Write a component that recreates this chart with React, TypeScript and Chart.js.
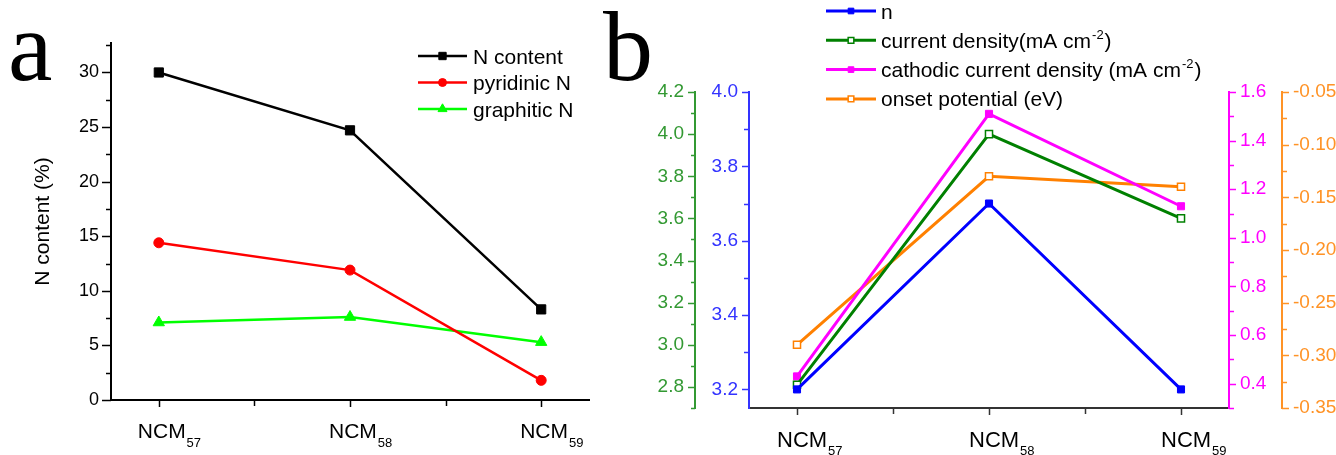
import React, { useEffect, useRef } from 'react';
import { Chart, registerables } from 'chart.js';

Chart.register(...registerables);

// ---------------- data ----------------
const categoryBase = ['NCM', 'NCM', 'NCM'];
const categorySub = ['57', '58', '59'];
const categoryPos = [1, 2, 3];

const seriesNamesA = ['N content', 'pyridinic N', 'graphitic N'];
const nContent = [30.0, 24.7, 8.3];
const pyridinicN = [14.4, 11.9, 1.8];
const graphiticN = [7.1, 7.6, 5.3];
const yTitleA = 'N content (%)';

const seriesNamesB = [
  'n',
  'current density(mA cm^{-2})',
  'cathodic current density (mA cm^{-2})',
  'onset potential (eV)',
];
const nValues = [3.2, 3.7, 3.2];
const currentDensity = [2.81, 4.0, 3.6];
const cathodicCurrent = [0.43, 1.51, 1.13];
const onsetPotential = [-0.29, -0.13, -0.14];

const panelLetters = ['a', 'b'];

// ---------------- styling helpers ----------------
const FONT = "'Liberation Sans', Arial, sans-serif";

const toPoints = (vals: number[]) => vals.map((v, i) => ({ x: categoryPos[i], y: v }));

function drawMarker(ctx: CanvasRenderingContext2D, style: string, x: number, y: number, r: number,
  fill: string, stroke: string, bw: number) {
  ctx.beginPath();
  if (style === 'rect') {
    const h = r * Math.SQRT1_2;
    ctx.rect(x - h, y - h, 2 * h, 2 * h);
  } else if (style === 'circle') {
    ctx.arc(x, y, r, 0, Math.PI * 2);
  } else if (style === 'triangle') {
    for (let k = 0; k < 3; k++) {
      const a = -Math.PI / 2 + (k * 2 * Math.PI) / 3;
      const px = x + Math.cos(a) * r;
      const py = y + Math.sin(a) * r;
      if (k === 0) ctx.moveTo(px, py); else ctx.lineTo(px, py);
    }
    ctx.closePath();
  }
  ctx.fillStyle = fill;
  ctx.fill();
  ctx.lineWidth = bw;
  ctx.strokeStyle = stroke;
  ctx.stroke();
}

function drawRich(ctx: CanvasRenderingContext2D, text: string, x: number, baseline: number, size: number) {
  const parts = text.split(/(\^\{[^}]*\})/).filter(Boolean);
  let cx = x;
  for (const p of parts) {
    if (p.startsWith('^{')) {
      const t = p.slice(2, -1);
      ctx.font = `${Math.round(size * 0.6)}px ${FONT}`;
      ctx.fillText(t, cx + 1, baseline - size * 0.42);
      cx += ctx.measureText(t).width + 2;
    } else {
      ctx.font = `${size}px ${FONT}`;
      ctx.fillText(p, cx, baseline);
      cx += ctx.measureText(p).width;
    }
  }
}

// Origin-like ticks (major + minor, outward)
const originTicks = {
  id: 'originTicks',
  afterDraw(chart: any, _args: any, opts: any) {
    const ctx: CanvasRenderingContext2D = chart.ctx;
    const cfg = opts.axes || {};
    for (const id of Object.keys(cfg)) {
      const s = chart.scales[id];
      if (!s) continue;
      const c = cfg[id];
      const start = Math.ceil((s.min - 1e-9) / c.minor);
      const end = Math.floor((s.max + 1e-9) / c.minor);
      ctx.save();
      ctx.strokeStyle = c.color;
      ctx.lineWidth = c.width;
      for (let k = start; k <= end; k++) {
        const v = k * c.minor;
        const q = v / c.major;
        const isMajor = Math.abs(q - Math.round(q)) < 1e-6;
        const len = isMajor ? c.majorLen : c.minorLen;
        const p = Math.round(s.getPixelForValue(v)) + 0.5;
        ctx.beginPath();
        if (s.position === 'left') {
          ctx.moveTo(s.right, p); ctx.lineTo(s.right - len, p);
        } else if (s.position === 'right') {
          ctx.moveTo(s.left, p); ctx.lineTo(s.left + len, p);
        } else {
          ctx.moveTo(p, s.top); ctx.lineTo(p, s.top + len);
        }
        ctx.stroke();
      }
      ctx.restore();
    }
  },
};

// category labels with subscripts
const subLabels = {
  id: 'subLabels',
  afterDraw(chart: any, _args: any, opts: any) {
    const s = chart.scales.x;
    const ctx: CanvasRenderingContext2D = chart.ctx;
    ctx.save();
    ctx.fillStyle = opts.color;
    ctx.textAlign = 'left';
    ctx.textBaseline = 'alphabetic';
    categoryPos.forEach((v, i) => {
      const px = s.getPixelForValue(v);
      const x0 = px + opts.dx;
      ctx.font = `${opts.size}px ${FONT}`;
      ctx.fillText(categoryBase[i], x0, opts.baseline);
      const w = ctx.measureText(categoryBase[i]).width;
      ctx.font = `${opts.subSize}px ${FONT}`;
      ctx.fillText(categorySub[i], x0 + w + 1, opts.subBaseline);
    });
    ctx.restore();
  },
};

// Origin-like legend: line + marker + text
const lineLegend = {
  id: 'lineLegend',
  afterDraw(chart: any, _args: any, opts: any) {
    const ctx: CanvasRenderingContext2D = chart.ctx;
    chart.data.datasets.forEach((ds: any, i: number) => {
      const y = opts.y0 + i * opts.dy;
      ctx.save();
      ctx.strokeStyle = ds.borderColor;
      ctx.lineWidth = ds.borderWidth;
      ctx.beginPath();
      ctx.moveTo(opts.x1, y);
      ctx.lineTo(opts.x2, y);
      ctx.stroke();
      drawMarker(ctx, ds.pointStyle, (opts.x1 + opts.x2) / 2, y, ds.pointRadius * opts.markerScale,
        ds.pointBackgroundColor, ds.pointBorderColor, ds.pointBorderWidth);
      ctx.fillStyle = '#000';
      ctx.textAlign = 'left';
      ctx.textBaseline = 'alphabetic';
      drawRich(ctx, ds.label, opts.textX, y + opts.size * 0.36, opts.size);
      ctx.restore();
    });
  },
};

// ---------------- chart configs ----------------
function makeConfigA(): any {
  const mk = (label: string, vals: number[], color: string, style: string, r: number) => ({
    label,
    data: toPoints(vals),
    borderColor: color,
    backgroundColor: color,
    borderWidth: 2.5,
    pointStyle: style,
    pointRadius: r,
    pointBackgroundColor: color,
    pointBorderColor: color,
    pointBorderWidth: 1,
    tension: 0,
  });
  return {
    type: 'line',
    data: {
      datasets: [
        mk(seriesNamesA[0], nContent, '#000000', 'rect', 6.5),
        mk(seriesNamesA[1], pyridinicN, '#ff0000', 'circle', 5),
        mk(seriesNamesA[2], graphiticN, '#00ff00', 'triangle', 6.5),
      ],
    },
    plugins: [originTicks, subLabels, lineLegend],
    options: {
      responsive: false,
      animation: false,
      events: [],
      layout: { padding: { top: 43, right: 31, left: 0, bottom: 0 }, autoPadding: false },
      plugins: {
        legend: { display: false },
        tooltip: { enabled: false },
        originTicks: {
          axes: {
            y: { major: 5, minor: 2.5, majorLen: 9, minorLen: 5, color: '#000', width: 1.5 },
            x: { major: 1, minor: 0.5, majorLen: 7, minorLen: 6, color: '#000', width: 1.5 },
          },
        },
        subLabels: { color: '#000', size: 21, subSize: 13, dx: -21, baseline: 438, subBaseline: 447 },
        lineLegend: { x1: 418, x2: 467, textX: 473, y0: 56, dy: 26.5, size: 21, markerScale: 0.8 },
      },
      scales: {
        x: {
          type: 'linear',
          position: 'bottom',
          min: 0.75,
          max: 3.25,
          ticks: { display: false },
          grid: { display: false, drawTicks: false },
          border: { display: true, color: '#000', width: 2 },
          afterFit: (s: any) => { s.height = 55; },
        },
        y: {
          type: 'linear',
          position: 'left',
          min: 0,
          max: 32.7,
          ticks: {
            stepSize: 5,
            includeBounds: false,
            autoSkip: false,
            padding: 12,
            color: '#000',
            font: { family: FONT, size: 18 },
            callback: (v: any) => String(Math.round(Number(v))),
          },
          grid: { display: false, drawTicks: false },
          border: { display: true, color: '#000', width: 2 },
          title: {
            display: true,
            text: yTitleA,
            color: '#000',
            font: { family: FONT, size: 21 },
            padding: { top: 31, bottom: 0 },
          },
          afterFit: (s: any) => { s.width = 111; },
        },
      },
    },
  };
}

const BLUE = '#0000ff';
const GREEN = '#008000';
const MAGENTA = '#ff00ff';
const ORANGE = '#ff8000';
const GREEN_AX = '#339933';
const BLUE_AX = '#3333ff';
const MAGENTA_AX = '#ff00ff';
const ORANGE_AX = '#ff9326';

function makeConfigB(): any {
  const mk = (label: string, vals: number[], color: string, axis: string, open: boolean) => ({
    label,
    data: toPoints(vals),
    yAxisID: axis,
    borderColor: color,
    backgroundColor: color,
    borderWidth: 3,
    pointStyle: 'rect',
    pointRadius: 5,
    pointBackgroundColor: open ? '#ffffff' : color,
    pointBorderColor: color,
    pointBorderWidth: open ? 1.5 : 1,
    tension: 0,
  });
  const yAxis = (pos: string, weight: number, min: number, max: number, step: number, color: string,
    width: number, decimals: number) => ({
    type: 'linear',
    position: pos,
    weight,
    min,
    max,
    ticks: {
      stepSize: step,
      includeBounds: false,
      autoSkip: false,
      padding: 11,
      color,
      font: { family: FONT, size: 19 },
      callback: (v: any) => Number(v).toFixed(decimals),
    },
    grid: { display: false, drawTicks: false },
    border: { display: true, color, width: 2 },
    afterFit: (s: any) => { s.width = width; },
  });
  return {
    type: 'line',
    data: {
      datasets: [
        mk(seriesNamesB[0], nValues, BLUE, 'yBlue', false),
        mk(seriesNamesB[1], currentDensity, GREEN, 'yGreen', true),
        mk(seriesNamesB[2], cathodicCurrent, MAGENTA, 'yMag', false),
        mk(seriesNamesB[3], onsetPotential, ORANGE, 'yOrange', true),
      ],
    },
    plugins: [originTicks, subLabels, lineLegend],
    options: {
      responsive: false,
      animation: false,
      events: [],
      layout: { padding: { top: 92, right: 0, left: 0, bottom: 0 }, autoPadding: false },
      plugins: {
        legend: { display: false },
        tooltip: { enabled: false },
        originTicks: {
          axes: {
            x: { major: 1, minor: 0.5, majorLen: 7, minorLen: 6, color: '#333', width: 1.5 },
            yGreen: { major: 0.2, minor: 0.1, majorLen: 7, minorLen: 4, color: GREEN_AX, width: 1.5 },
            yBlue: { major: 0.2, minor: 0.1, majorLen: 7, minorLen: 5, color: BLUE_AX, width: 1.5 },
            yMag: { major: 0.2, minor: 0.1, majorLen: 7, minorLen: 5, color: MAGENTA_AX, width: 1.5 },
            yOrange: { major: 0.05, minor: 0.025, majorLen: 7, minorLen: 5, color: ORANGE_AX, width: 1.5 },
          },
        },
        subLabels: { color: '#000', size: 22, subSize: 13, dx: -20, baseline: 447, subBaseline: 455 },
        lineLegend: { x1: 206, x2: 256, textX: 261, y0: 11, dy: 29.3, size: 21, markerScale: 0.8 },
      },
      scales: {
        x: {
          type: 'linear',
          position: 'bottom',
          min: 0.75,
          max: 3.25,
          ticks: { display: false },
          grid: { display: false, drawTicks: false },
          border: { display: true, color: '#333', width: 2 },
          afterFit: (s: any) => { s.height = 47; },
        },
        yBlue: yAxis('left', 0, 3.15, 4.0, 0.2, BLUE_AX, 54, 1),
        yGreen: yAxis('left', 1, 2.7, 4.2, 0.2, GREEN_AX, 75, 1),
        yMag: yAxis('right', 0, 0.3, 1.6, 0.2, MAGENTA_AX, 53, 1),
        yOrange: yAxis('right', 1, -0.35, -0.05, 0.05, ORANGE_AX, 54, 2),
      },
    },
  };
}

const letterStyle = (left: number): React.CSSProperties => ({
  position: 'absolute',
  left,
  top: -3,
  fontFamily: "'Liberation Serif', 'Times New Roman', serif",
  fontSize: 100,
  lineHeight: '100px',
  color: '#000',
  pointerEvents: 'none',
});

export default function App() {
  const refA = useRef<HTMLCanvasElement>(null);
  const refB = useRef<HTMLCanvasElement>(null);

  useEffect(() => {
    const a = new Chart(refA.current as HTMLCanvasElement, makeConfigA());
    const b = new Chart(refB.current as HTMLCanvasElement, makeConfigB());
    return () => {
      a.destroy();
      b.destroy();
    };
  }, []);

  return (
    <div style={{ position: 'absolute', left: 0, top: 0, width: 1336, height: 455, background: '#fff', overflow: 'hidden' }}>
      <canvas ref={refA} width={620} height={455} style={{ position: 'absolute', left: 0, top: 0 }} />
      <canvas ref={refB} width={716} height={455} style={{ position: 'absolute', left: 620, top: 0 }} />
      <div style={letterStyle(8)}>{panelLetters[0]}</div>
      <div style={letterStyle(603)}>{panelLetters[1]}</div>
    </div>
  );
}
